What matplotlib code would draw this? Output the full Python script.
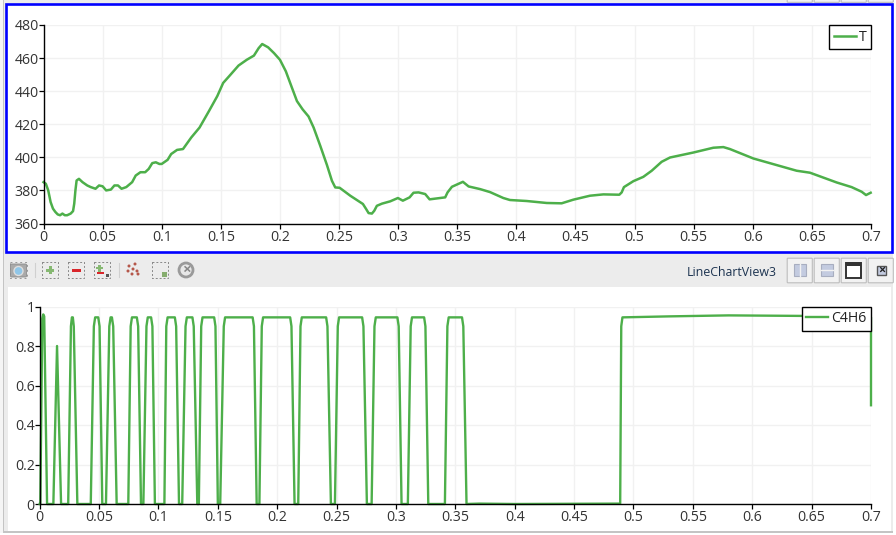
import matplotlib
matplotlib.use('Agg')
import matplotlib.pyplot as plt
from matplotlib.patches import Rectangle, FancyBboxPatch, Circle

plt.rcParams['font.family'] = ['Open Sans', 'DejaVu Sans']

# temperature series
t_x = [0, .002, .004, .006, .008, .010, .012, .014, .016, .018, .020, .023, .025, .026, .027, .028,
       .03, .033, .037, .04, .044, .047, .05, .053, .057, .06, .063, .066, .07, .075, .078, .082,
       .086, .089, .092, .095, .098, .1, .105, .108, .113, .118, .12, .125, .132, .14, .147, .152,
       .157, .165, .172, .178, .182, .185, .19, .195, .2, .205, .2102, .2144, .2192, .2242, .2285,
       .2341, .2398, .244, .2468, .2505, .2595, .2702, .2727, .275, .2778, .2798, .282, .2863,
       .2933, .2998, .304, .3097, .313, .3173, .3229, .3266, .3398, .3418, .3455, .3548, .3596,
       .3693, .3777, .389, .3946, .4087, .4257, .4383, .4482, .4623, .4736, .4871, .4891, .491,
       .499, .5074, .5145, .5229, .53, .5497, .5666, .5751, .5807, .6005, .6371, .6484, .671,
       .6836, .6921, .6958, .6997]
t_y = [385, 384, 380, 373, 369, 367, 365.5, 365, 366, 365, 365, 366, 367.5, 372, 380, 386,
       387, 385, 383, 382, 381, 383, 382.5, 380, 380.5, 383, 383, 381, 382, 385, 389, 391,
       391, 393, 396.5, 397, 396, 396, 398.5, 402, 404.5, 405, 407, 412, 418, 428, 437, 445,
       449, 455.5, 459, 461.5, 466, 468.5, 466.5, 463, 459, 452, 442, 434, 429, 424.7, 418,
       407, 395.3, 385.8, 381.8, 381.6, 376.8, 371.8, 369, 366.3, 366, 367.7, 370.7, 372,
       373.4, 375.4, 373.8, 375.8, 378.6, 378.8, 377.8, 374.6, 375.8, 378.8, 382.2, 385.2, 382.4,
       380.8, 379, 375.4, 374.2, 373.6, 372.4, 372.2, 374.4, 376.8, 377.6, 377.4, 378.8, 382,
       385.6, 388.2, 391.9, 397.3, 399.9, 402.9, 405.8, 406.2, 405, 399.3, 391.9, 390.7, 384.8,
       382, 379.2, 377.2, 378.6]

# C4H6 series
c_x = [0, .0005, .0022, .003, .0038, .0062, .0115, .0146, .018,
       .024, .0263, .0271, .0279, .0287, .0317,
       .043, .0456, .0467, .0493, .0504, .0527,
       .0558, .0586, .0597, .0608, .0619, .0648,
       .0746, .0766, .0777, .0818, .0829, .0853,
       .0873, .0899, .091, .0938, .0949, .097,
       .105, .1066, .1077, .1138, .1149, .1173,
       .12, .1228, .1239, .1286, .1297, .1327,
       .134, .136, .1371, .1469, .148, .15,
       .152, .155, .1561, .1793, .1804, .1827,
       .185, .187, .1881, .2109, .212, .2146,
       .2177, .2196, .2207, .2412, .2423, .2452,
       .2486, .251, .2521, .2715, .2726, .2755,
       .2795, .2819, .283, .3012, .3023, .3047,
       .31, .3124, .3135, .3237, .3248, .3272,
       .3412, .3433, .3444, .3556, .3567, .3594,
       .37, .4, .4888, .4897, .4907, .53, .58, .65, .699, .7, .7]
c_y = [0, 0, .94, .96, .95, 0, 0, .8, 0,
       0, .9, .945, .945, .9, 0,
       0, .9, .945, .945, .9, 0,
       0, .9, .945, .945, .9, 0,
       0, .9, .945, .945, .9, 0,
       0, .9, .945, .945, .9, 0,
       0, .9, .945, .945, .9, 0,
       0, .9, .945, .945, .9, 0,
       0, .9, .945, .945, .9, 0,
       0, .9, .945, .945, .9, 0,
       0, .9, .945, .945, .9, 0,
       0, .9, .945, .945, .9, 0,
       0, .9, .945, .945, .9, 0,
       0, .9, .945, .945, .9, 0,
       0, .9, .945, .945, .9, 0,
       0, .9, .945, .945, .9, 0,
       .002, 0, .002, .9, .945, .95, .955, .952, .945, .945, .5]

x_ticks = [0, .05, .1, .15, .2, .25, .3, .35, .4, .45, .5, .55, .6, .65, .7]
x_labels = ['0', '0.05', '0.1', '0.15', '0.2', '0.25', '0.3', '0.35', '0.4', '0.45', '0.5', '0.55', '0.6', '0.65', '0.7']
t_ticks = [360, 380, 400, 420, 440, 460, 480]
c_ticks = [0, .2, .4, .6, .8, 1]
c_labels = ['0', '0.2', '0.4', '0.6', '0.8', '1']

W, H = 896, 535
GREEN = '#4daf4a'

fig = plt.figure(figsize=(W / 100, H / 100), dpi=100, facecolor='white')

# window chrome, drawn in pixel coordinates
bg = fig.add_axes([0, 0, 1, 1], zorder=0)
bg.set_xlim(0, W)
bg.set_ylim(H, 0)
bg.axis('off')
bg.add_patch(Rectangle((0, 0), 893, 533, fc='#ececec', ec='none'))
bg.add_patch(Rectangle((0, 0), 3, 533, fc='#f5f5f5', ec='none'))
bg.add_patch(Rectangle((3, 0), 1, 533, fc='#c4c4c4', ec='none'))
bg.add_patch(Rectangle((3, 531), 890, 2, fc='#c4c4c4', ec='none'))
bg.add_patch(Rectangle((8, 287), 883, 244, fc='white', ec='none'))
bg.add_patch(Rectangle((6, 4), 886, 248, fc='white', ec='#0000ff', lw=1.9))

# toolbar icons
bg.add_patch(Rectangle((10, 262), 17, 16, fc='none', ec='#999999', lw=.7, ls=(0, (2, 3))))
bg.add_patch(FancyBboxPatch((11.5, 265), 14, 11, boxstyle='round,pad=1', fc='#a9a9a9', ec='#8c8c8c', lw=.6))
bg.add_patch(Circle((18.5, 271), 4.5, fc='#8fc6e8', ec='#dddddd', lw=1))
for x0 in (42, 68, 94, 152):
    bg.add_patch(Rectangle((x0, 262), 15.5, 15.5, fc='none', ec='#888888', lw=.7, ls=(0, (2, 2))))
bg.add_patch(Rectangle((46, 268.5), 8, 3, fc='#86b872', ec='none'))
bg.add_patch(Rectangle((48.5, 266), 3, 8, fc='#86b872', ec='none'))
bg.add_patch(Rectangle((71.5, 268.5), 9, 3, fc='#d9262b', ec='none'))
bg.add_patch(Rectangle((96, 267), 7, 2.4, fc='#86b872', ec='none'))
bg.add_patch(Rectangle((98.3, 264.5), 2.4, 7, fc='#86b872', ec='none'))
bg.add_patch(Rectangle((96.5, 272), 7.5, 2.4, fc='#d9262b', ec='none'))
bg.add_patch(Rectangle((106, 274), 3, 2.6, fc='#555555', ec='none'))
for px, py in ((129, 266), (135, 264), (128, 271), (133, 269), (137, 271), (132, 274), (138, 274)):
    bg.add_patch(Circle((px, py), 1.5, fc='#b5574a', ec='none'))
bg.add_patch(Rectangle((162, 272), 5, 4.5, fc='#86ad6f', ec='none'))
bg.add_patch(Circle((186, 270), 7, fc='#e8e8e8', ec='#9a9a9a', lw=2))
bg.text(186, 270, '×', color='#888888', fontsize=11, ha='center', va='center', fontweight='bold')
bg.plot([34.5, 34.5], [263, 277], color='#d0d0d0', lw=.8)
bg.plot([118.5, 118.5], [263, 277], color='#d0d0d0', lw=.8)

# view buttons
for x0 in (788, 815, 842, 869):
    bg.add_patch(FancyBboxPatch((x0, 259), 23.5, 23, boxstyle='round,pad=0.8', fc='#f2f2f2', ec='#bdbdbd', lw=.8))
    bg.add_patch(FancyBboxPatch((x0, -6), 23.5, 7.5, boxstyle='round,pad=0.8', fc='#f2f2f2', ec='#bdbdbd', lw=.8))
bg.add_patch(Rectangle((794, 264), 12, 12, fc='#c3cbe0', ec='#a8aec0', lw=.8))
bg.plot([800, 800], [264, 276], color='#f2f2f2', lw=1)
bg.add_patch(Rectangle((821, 264), 12, 12, fc='#c3cbe0', ec='#a8aec0', lw=.8))
bg.plot([821, 833], [270, 270], color='#f2f2f2', lw=1)
bg.add_patch(Rectangle((846, 263), 15, 15, fc='white', ec='#333333', lw=1.4))
bg.add_patch(Rectangle((846, 262), 15, 3.5, fc='#333333', ec='none'))
bg.add_patch(Rectangle((877, 266), 9, 9, fc='#c3cbe0', ec='#555555', lw=1))
bg.text(881.5, 270.3, '×', color='#222222', fontsize=9, ha='center', va='center', fontweight='bold')
bg.text(732, 272, 'LineChartView3', color='#1c3350', fontsize=8.9, ha='center', va='center')


def make_axes(left, right, top, bottom):
    ax = fig.add_axes([left / W, 1 - bottom / H, (right - left) / W, (bottom - top) / H], zorder=1)
    ax.patch.set_alpha(0)
    ax.spines['top'].set_visible(False)
    ax.spines['right'].set_visible(False)
    ax.spines['left'].set_linewidth(1)
    ax.spines['bottom'].set_linewidth(1)
    ax.grid(True, color='#f1f1f1', lw=1)
    ax.set_axisbelow(True)
    ax.tick_params(length=3.6, width=.9, labelsize=10.2, labelcolor='#333333')
    ax.tick_params(axis='x', pad=1)
    ax.tick_params(axis='y', pad=0)
    ax.set_xlim(0, .7)
    ax.set_xticks(x_ticks, x_labels)
    return ax


ax1 = make_axes(43.5, 871, 25, 223.5)
ax1.plot(t_x, t_y, color=GREEN, lw=1.8, label='T', clip_on=False, solid_joinstyle='round')
ax1.set_ylim(360, 480)
ax1.set_yticks(t_ticks)

ax2 = make_axes(39.7, 871, 306.5, 504)
ax2.plot(c_x, c_y, color=GREEN, lw=1.7, label='C4H6', clip_on=False, solid_joinstyle='round')
ax2.set_ylim(0, 1)
ax2.set_yticks(c_ticks, c_labels)

for ax in (ax1, ax2):
    leg = ax.legend(loc='upper right', bbox_to_anchor=(1, 1), borderaxespad=0, fancybox=False,
                    framealpha=1, edgecolor='black', fontsize=10.2, handlelength=1.55,
                    handletextpad=.2, borderpad=.32, labelcolor='#222222')
    leg.get_frame().set_linewidth(1)
    leg.set_zorder(5)

fig.savefig('out.png', dpi=100)
